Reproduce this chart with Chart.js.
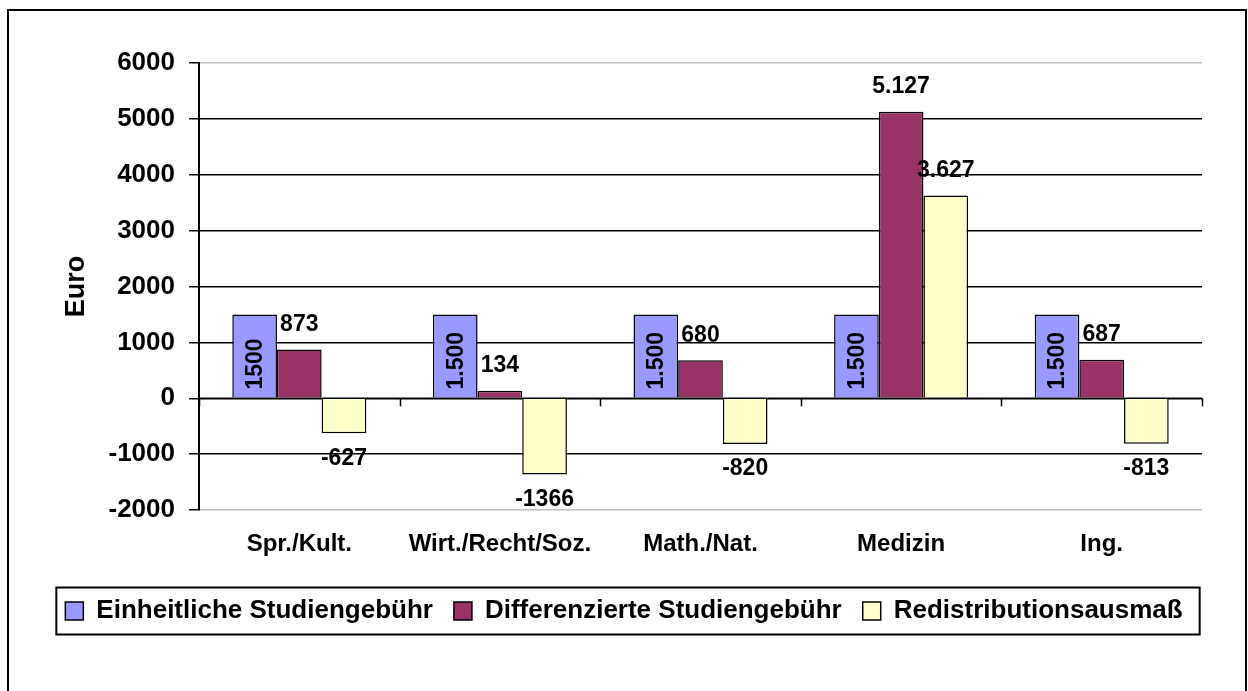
<!DOCTYPE html>
<html>
<head>
<meta charset="utf-8">
<script src="https://cdn.jsdelivr.net/npm/chart.js@4/dist/chart.umd.min.js"></script>
<style>
  html, body { margin: 0; padding: 0; background: #ffffff; }
  #wrap { position: relative; width: 1248px; height: 691px; }
</style>
</head>
<body>
<div id="wrap"><canvas id="c"></canvas></div>
<script>
// ---- data ----
const categories = ['Spr./Kult.', 'Wirt./Recht/Soz.', 'Math./Nat.', 'Medizin', 'Ing.'];
const seriesNames = ['Einheitliche Studiengebühr', 'Differenzierte Studiengebühr', 'Redistributionsausmaß'];
const einheitlich = [1500, 1500, 1500, 1500, 1500];
const differenziert = [873, 134, 680, 5127, 687];
const redistribution = [-627, -1366, -820, 3627, -813];
const einheitlichLabels = ['1500', '1.500', '1.500', '1.500', '1.500'];
const differenziertLabels = ['873', '134', '680', '5.127', '687'];
const redistributionLabels = ['-627', '-1366', '-820', '3.627', '-813'];
const yMin = -2000, yMax = 6000, yStep = 1000;
const axisTitle = 'Euro';

const FONT = "'Liberation Sans', Arial, sans-serif";

const framePlugin = {
  id: 'frame',
  afterDraw(chart) {
    const ctx = chart.ctx;
    ctx.save();
    ctx.strokeStyle = '#000';
    ctx.lineWidth = 2;
    ctx.strokeRect(8, 10, 1238, 700);
    const hb = chart.legend.legendHitBoxes;
    if (hb && hb.length) {
      let l = Infinity, r = -Infinity, cy = 0;
      hb.forEach(h => { l = Math.min(l, h.left); r = Math.max(r, h.left + h.width); cy = h.top + h.height / 2; });
      ctx.strokeRect(l - 9, cy - 23.5, (r + 17) - (l - 9), 47);
    }
    ctx.restore();
  }
};

const zeroTicksPlugin = {
  id: 'zeroTicks',
  afterDatasetsDraw(chart) {
    const ctx = chart.ctx, xs = chart.scales.x, ys = chart.scales.y;
    const y0 = ys.getPixelForValue(0);
    const w = (xs.right - xs.left) / categories.length;
    ctx.save();
    ctx.strokeStyle = '#000';
    ctx.lineWidth = 1.5;
    ctx.beginPath();
    ctx.moveTo(xs.left, y0); ctx.lineTo(xs.right, y0);
    for (let i = 0; i <= categories.length; i++) {
      const x = Math.round(xs.left + i * w) + 0.5;
      ctx.moveTo(x, y0); ctx.lineTo(x, y0 + 8);
    }
    ctx.stroke();
    ctx.restore();
  }
};

const labelsPlugin = {
  id: 'barLabels',
  afterDatasetsDraw(chart) {
    const ctx = chart.ctx;
    const labelSets = [einheitlichLabels, differenziertLabels, redistributionLabels];
    ctx.save();
    ctx.fillStyle = '#000';
    ctx.font = "bold 23px " + FONT;
    chart.data.datasets.forEach((ds, di) => {
      const meta = chart.getDatasetMeta(di);
      meta.data.forEach((el, i) => {
        const txt = labelSets[di][i];
        const v = ds.data[i];
        if (di === 0) {
          ctx.save();
          ctx.translate(el.x, el.base - 8);
          ctx.rotate(-Math.PI / 2);
          ctx.textAlign = 'left';
          ctx.textBaseline = 'middle';
          ctx.fillText(txt, 0, 1);
          ctx.restore();
        } else {
          ctx.textAlign = 'center';
          ctx.textBaseline = 'middle';
          const y = v >= 0 ? el.y - 25 : el.y + 25;
          ctx.fillText(txt, el.x, y);
        }
      });
    });
    ctx.restore();
  }
};

new Chart(document.getElementById('c'), {
  type: 'bar',
  data: {
    labels: categories,
    datasets: [
      { label: seriesNames[0], data: einheitlich, backgroundColor: '#9999FF', borderColor: '#000', borderWidth: 1.5 },
      { label: seriesNames[1], data: differenziert, backgroundColor: '#993366', borderColor: '#000', borderWidth: 1.5 },
      { label: seriesNames[2], data: redistribution, backgroundColor: '#FFFFCC', borderColor: '#000', borderWidth: 1.5 }
    ]
  },
  options: {
    responsive: true,
    maintainAspectRatio: false,
    animation: false,
    events: [],
    layout: { padding: { left: 0, right: 0, top: 63, bottom: 57 } },
    datasets: { bar: { categoryPercentage: 0.668, barPercentage: 1.0 } },
    plugins: {
      tooltip: { enabled: false },
      title: { display: false },
      legend: {
        position: 'bottom',
        labels: {
          font: { family: FONT, size: 26, weight: 'bold' },
          color: '#000',
          boxWidth: 18,
          boxHeight: 18,
          padding: 21
        }
      }
    },
    scales: {
      x: {
        grid: { display: false, drawTicks: false },
        border: { display: false },
        ticks: { font: { family: FONT, size: 24, weight: 'bold' }, color: '#000', padding: 20, maxRotation: 0, autoSkip: false },
        afterFit(scale) { scale.height = 67; }
      },
      y: {
        min: yMin, max: yMax,
        ticks: { stepSize: yStep, font: { family: FONT, size: 26, weight: 'bold' }, color: '#000', padding: 14,
                 callback: (v) => String(v) },
        grid: {
          color: (c) => (c.tick && (c.tick.value === yMax || c.tick.value === yMin)) ? '#c0c0c0' : '#000',
          lineWidth: 1.5,
          tickLength: 10,
          tickColor: '#000',
          tickWidth: 1.5
        },
        border: { display: true, color: '#000', width: 2 },
        title: { display: true, text: axisTitle, font: { family: FONT, size: 27, weight: 'bold' }, color: '#000', padding: { top: 60, bottom: 0 } },
        afterFit(scale) { scale.width = 199; }
      },
      yRight: {
        position: 'right',
        display: true,
        min: yMin, max: yMax,
        grid: { display: false, drawTicks: false },
        border: { display: false },
        ticks: { display: false },
        afterFit(scale) { scale.width = 46; }
      }
    }
  },
  plugins: [labelsPlugin, zeroTicksPlugin, framePlugin]
});
</script>
</body>
</html>
